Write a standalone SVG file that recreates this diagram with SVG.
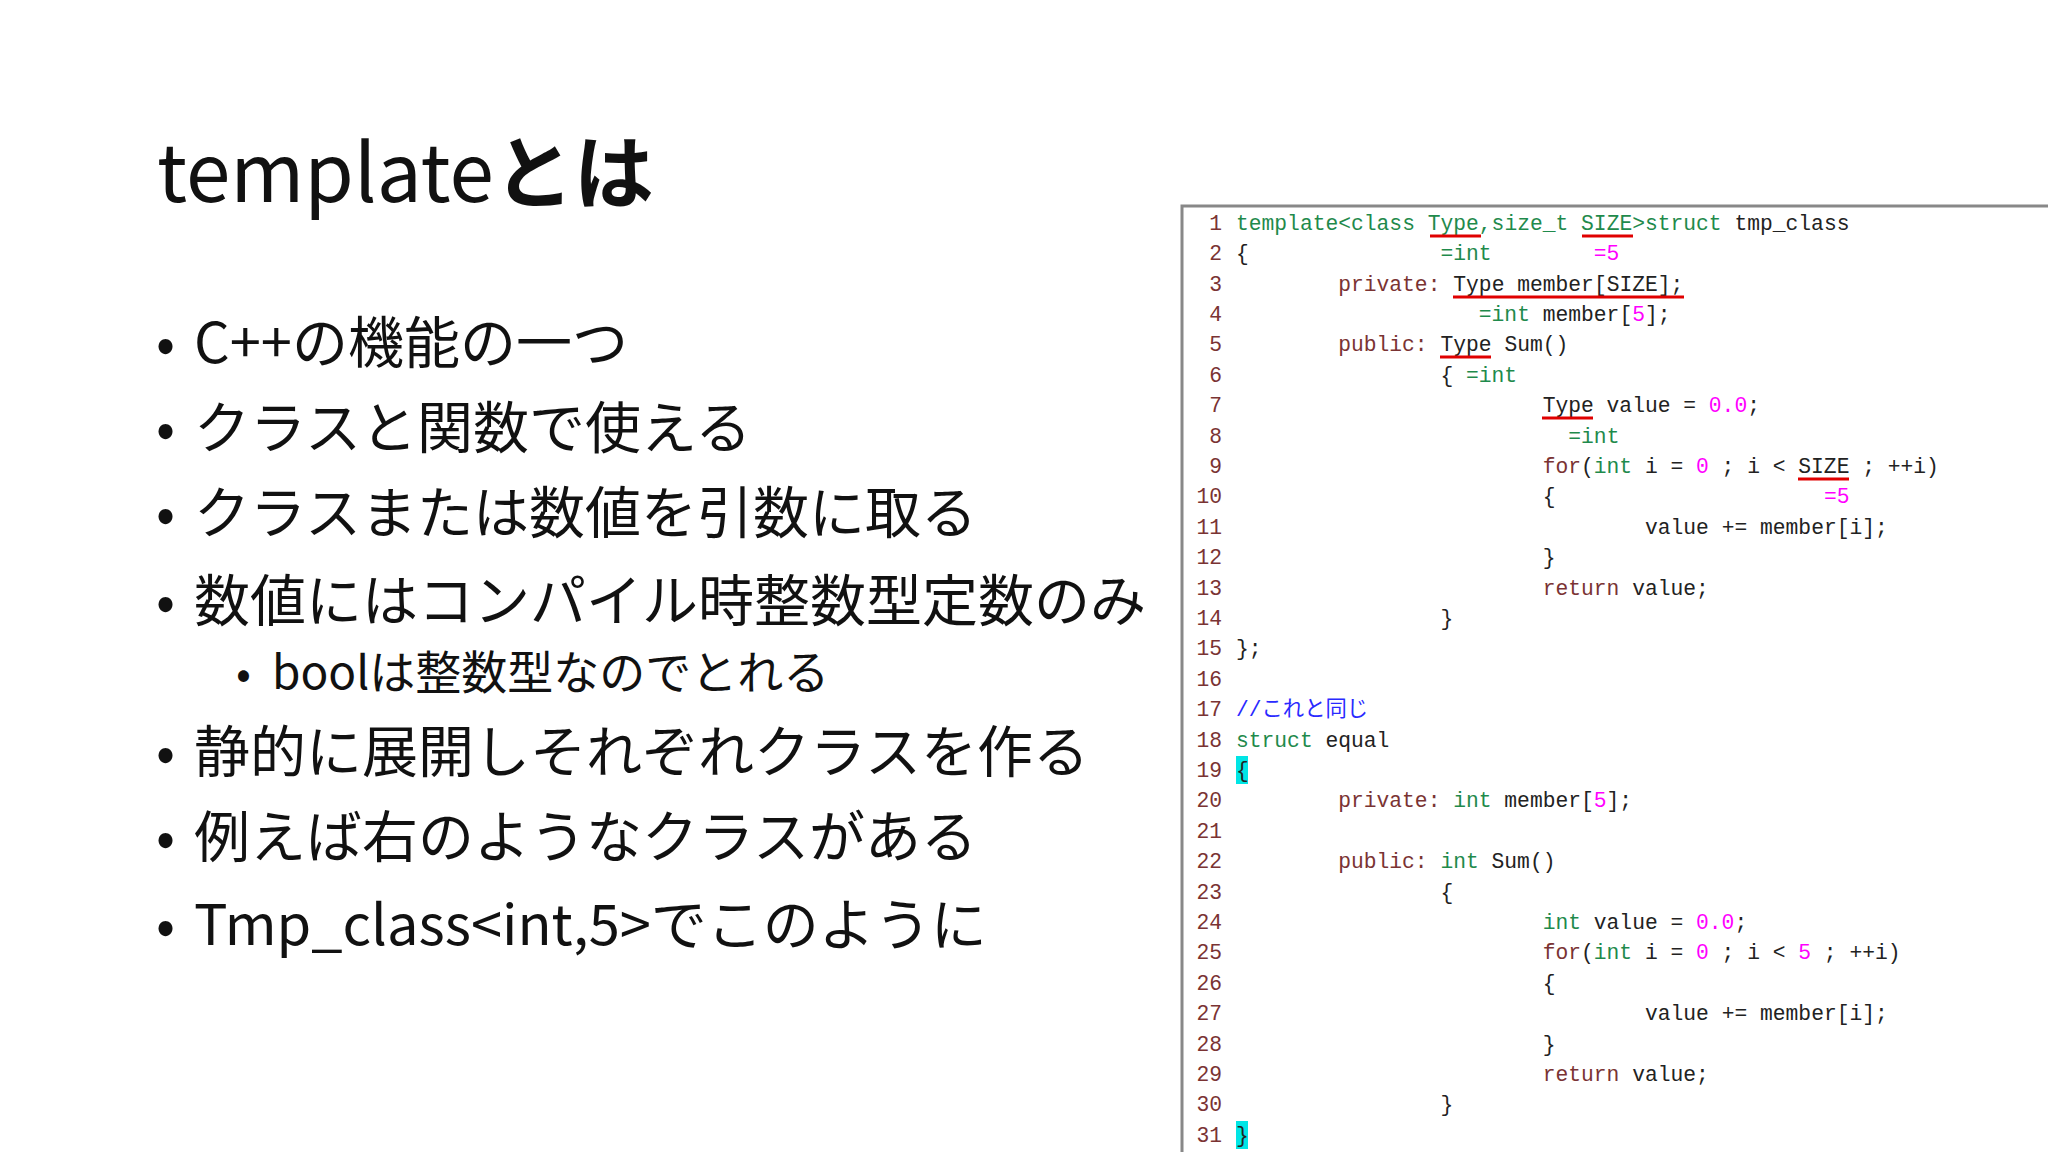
<svg xmlns="http://www.w3.org/2000/svg" width="2048" height="1152" viewBox="0 0 2048 1152">
<style>
.t{font-family:"Noto Sans CJK JP","Noto Sans",sans-serif;fill:#111}
.c{font-family:"Liberation Mono","Noto Sans CJK JP",monospace;font-size:21.3px;fill:#222}
.n{font-family:"Liberation Mono",monospace;font-size:21.3px;fill:#7a3333;text-anchor:end}
.g{fill:#1f8a4c}.r{fill:#7a3333}.m{fill:#ff00ff}.b{fill:#2a2aff}
.u{stroke:#e00000;stroke-width:3}
</style>
<rect width="2048" height="1152" fill="#fff"/>
<g id="title"><text class="t" x="157" y="202" font-size="80">template<tspan font-weight="bold">とは</tspan></text></g>
<g id="bullets" class="t" font-size="56">
<text x="156" y="363">•</text><text x="194" y="363">C++の機能の一つ</text>
<text x="156" y="448">•</text><text x="194" y="448">クラスと関数で使える</text>
<text x="156" y="533">•</text><text x="194" y="533">クラスまたは数値を引数に取る</text>
<text x="156" y="621">•</text><text x="194" y="621">数値にはコンパイル時整数型定数のみ</text>
<text x="236" y="689" font-size="44">•</text><text x="272" y="689" font-size="46">boolは整数型なのでとれる</text>
<text x="156" y="772">•</text><text x="194" y="772">静的に展開しそれぞれクラスを作る</text>
<text x="156" y="857">•</text><text x="194" y="857">例えば右のようなクラスがある</text>
<text x="156" y="945">•</text><text x="194" y="945">Tmp_class&lt;int,5&gt;でこのように</text>
</g>
<g id="code">
<path d="M1182 1152 V206 H2048" fill="none" stroke="#888" stroke-width="3"/>
<rect x="1236" y="756" width="12" height="28" fill="#00e5e5"/>
<rect x="1236" y="1121" width="12" height="28" fill="#00e5e5"/>
<g class="n">
<text x="1222" y="230">1</text><text x="1222" y="260">2</text><text x="1222" y="291">3</text><text x="1222" y="321">4</text><text x="1222" y="351">5</text><text x="1222" y="382">6</text><text x="1222" y="412">7</text><text x="1222" y="443">8</text><text x="1222" y="473">9</text><text x="1222" y="503">10</text><text x="1222" y="534">11</text><text x="1222" y="564">12</text><text x="1222" y="595">13</text><text x="1222" y="625">14</text><text x="1222" y="655">15</text><text x="1222" y="686">16</text><text x="1222" y="716">17</text><text x="1222" y="747">18</text><text x="1222" y="777">19</text><text x="1222" y="807">20</text><text x="1222" y="838">21</text><text x="1222" y="868">22</text><text x="1222" y="899">23</text><text x="1222" y="929">24</text><text x="1222" y="959">25</text><text x="1222" y="990">26</text><text x="1222" y="1020">27</text><text x="1222" y="1051">28</text><text x="1222" y="1081">29</text><text x="1222" y="1111">30</text><text x="1222" y="1142">31</text>
</g>
<g class="c">
<text x="1236" y="230"><tspan class="g">template&lt;class Type,size_t SIZE&gt;struct</tspan> tmp_class</text>
<text y="260"><tspan x="1236">{</tspan><tspan x="1440.5" class="g">=int</tspan><tspan x="1593.8" class="m">=5</tspan></text>
<text y="291"><tspan x="1338.2" class="r">private:</tspan><tspan x="1453.3">Type member[SIZE];</tspan></text>
<text y="321"><tspan x="1478.8" class="g">=int</tspan> member[<tspan class="m">5</tspan>];</text>
<text y="351"><tspan x="1338.2" class="r">public:</tspan><tspan x="1440.5">Type Sum()</tspan></text>
<text y="382"><tspan x="1440.5">{</tspan><tspan x="1466" class="g">=int</tspan></text>
<text x="1542.7" y="412">Type value = <tspan class="m">0.0</tspan>;</text>
<text x="1568.3" y="443" class="g">=int</text>
<text x="1542.7" y="473"><tspan class="r">for</tspan>(<tspan class="g">int</tspan> i = <tspan class="m">0</tspan> ; i &lt; SIZE ; ++i)</text>
<text y="503"><tspan x="1542.7">{</tspan><tspan x="1823.9" class="m">=5</tspan></text>
<text x="1645" y="534">value += member[i];</text>
<text x="1542.7" y="564">}</text>
<text x="1542.7" y="595"><tspan class="r">return</tspan> value;</text>
<text x="1440.5" y="625">}</text>
<text x="1236" y="655">};</text>
<text x="1236" y="716" class="b">//これと同じ</text>
<text x="1236" y="747"><tspan class="g">struct</tspan> equal</text>
<text x="1236" y="777">{</text>
<text x="1338.2" y="807"><tspan class="r">private:</tspan> <tspan class="g">int</tspan> member[<tspan class="m">5</tspan>];</text>
<text x="1338.2" y="868"><tspan class="r">public:</tspan> <tspan class="g">int</tspan> Sum()</text>
<text x="1440.5" y="899">{</text>
<text x="1542.7" y="929"><tspan class="g">int</tspan> value = <tspan class="m">0.0</tspan>;</text>
<text x="1542.7" y="959"><tspan class="r">for</tspan>(<tspan class="g">int</tspan> i = <tspan class="m">0</tspan> ; i &lt; <tspan class="m">5</tspan> ; ++i)</text>
<text x="1542.7" y="990">{</text>
<text x="1645" y="1020">value += member[i];</text>
<text x="1542.7" y="1051">}</text>
<text x="1542.7" y="1081"><tspan class="r">return</tspan> value;</text>
<text x="1440.5" y="1111">}</text>
<text x="1236" y="1142">}</text>
</g>
</g>
<g id="connectors" class="u">
<line x1="1430" y1="236" x2="1481" y2="236"/>
<line x1="1582" y1="236" x2="1633" y2="236"/>
<line x1="1453" y1="297" x2="1684" y2="297"/>
<line x1="1440" y1="357" x2="1491" y2="357"/>
<line x1="1542" y1="418" x2="1593" y2="418"/>
<line x1="1798" y1="479" x2="1849" y2="479"/>
</g>
</svg>
